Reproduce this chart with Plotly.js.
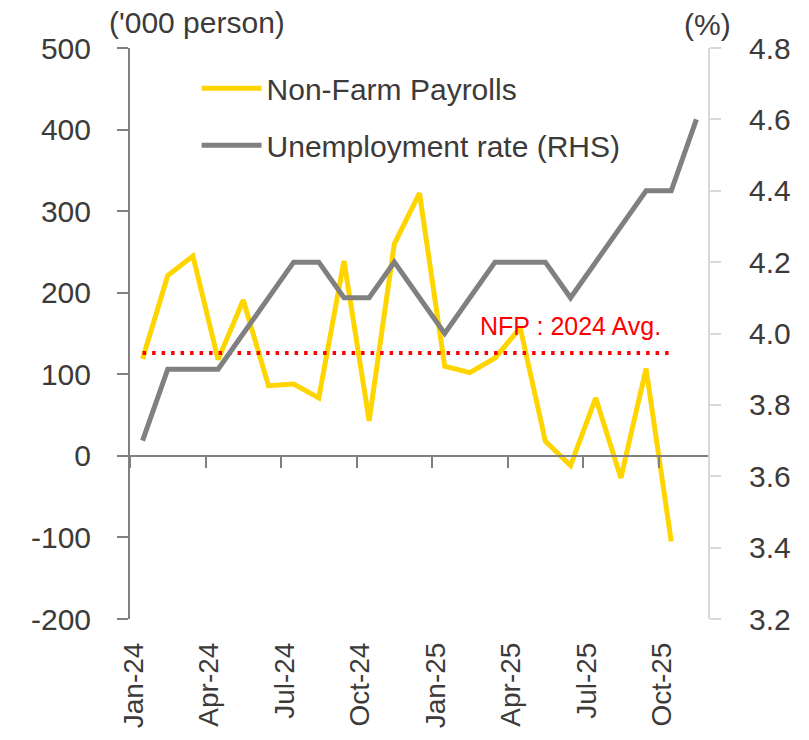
<!DOCTYPE html>
<html>
<head>
<meta charset="utf-8">
<script src="https://cdn.plot.ly/plotly-3.0.1.min.js"></script>
<style>html,body{margin:0;padding:0;background:#fff;}#chart{width:809px;height:740px;}</style>
</head>
<body>
<div id="chart"></div>
<script>
// ---- data ----
const months = ['Jan-24','Feb-24','Mar-24','Apr-24','May-24','Jun-24','Jul-24','Aug-24','Sep-24','Oct-24','Nov-24','Dec-24',
                'Jan-25','Feb-25','Mar-25','Apr-25','May-25','Jun-25','Jul-25','Aug-25','Sep-25','Oct-25','Nov-25'];
const nfpMonths = months.slice(0, 22);
const nfp = [119, 221, 245, 118, 191, 86, 88, 71, 239, 43, 260, 322,
             110, 102, 120, 157, 18, -12, 71, -27, 107, -105];
const unemployment = [3.7, 3.9, 3.9, 3.9, 4.0, 4.1, 4.2, 4.2, 4.1, 4.1, 4.2, 4.1,
                      4.0, 4.1, 4.2, 4.2, 4.2, 4.1, 4.2, 4.3, 4.4, 4.4, 4.6];
const avgMonths = ['Jan-24', 'Oct-25'];
const nfpAvg2024 = [126, 126];
const xTickLabels = ['Jan-24','Apr-24','Jul-24','Oct-24','Jan-25','Apr-25','Jul-25','Oct-25'];
const leftTicks = [-200, -100, 0, 100, 200, 300, 400, 500];
const leftTickText = ['-200', '-100', '0', '100', '200', '300', '400', '500'];
const rightTicks = [3.2, 3.4, 3.6, 3.8, 4.0, 4.2, 4.4, 4.6, 4.8];

const FONT = 'Liberation Sans, Arial, sans-serif';
const TXT = '#3d3a3a';

const traces = [
  {
    x: nfpMonths, y: nfp, xaxis: 'x', yaxis: 'y',
    type: 'scatter', mode: 'lines', name: 'Non-Farm Payrolls',
    line: {color: '#FFD500', width: 5},
    legendgroup: 'a', legendrank: 1
  },
  {
    x: avgMonths, y: nfpAvg2024, xaxis: 'x', yaxis: 'y',
    type: 'scatter', mode: 'lines', showlegend: false,
    line: {color: '#FF0000', width: 4, dash: '3.5px,6px'}
  },
  {
    x: months, y: unemployment, xaxis: 'x2', yaxis: 'y2',
    type: 'scatter', mode: 'lines', name: 'Unemployment rate (RHS)',
    line: {color: '#808080', width: 5},
    legendgroup: 'b', legendrank: 2
  }
];

const layout = {
  width: 809, height: 740,
  margin: {l: 130, r: 100, t: 48, b: 121, pad: 0},
  paper_bgcolor: '#ffffff', plot_bgcolor: '#ffffff',
  font: {family: FONT, color: TXT, size: 30},
  showlegend: true,
  legend: {
    x: 0.115, y: 0.975, xanchor: 'left', yanchor: 'top',
    bgcolor: 'rgba(0,0,0,0)', borderwidth: 0,
    font: {family: FONT, size: 30, color: TXT},
    traceorder: 'grouped', tracegroupgap: 15, itemwidth: 60
  },
  xaxis: {
    type: 'category', categoryorder: 'array', categoryarray: months,
    range: [-0.5, 22.5], anchor: 'y',
    showline: false, ticks: '', showgrid: false, zeroline: false,
    tickmode: 'array', tickvals: xTickLabels, ticktext: xTickLabels,
    tickangle: -90, tickfont: {family: FONT, size: 28, color: TXT},
    ticklabelstandoff: 17, ticklabelshift: -9
  },
  xaxis2: {
    type: 'category', categoryorder: 'array', categoryarray: months,
    range: [-0.5, 22.5], overlaying: 'x', anchor: 'free', position: 200/700,
    showline: true, linecolor: '#808080', linewidth: 2,
    ticks: 'outside', ticklen: 11, tickwidth: 2, tickcolor: '#808080',
    tickson: 'boundaries', tickmode: 'linear', tick0: 0, dtick: 3,
    showticklabels: false, showgrid: false, zeroline: false
  },
  yaxis: {
    range: [-200, 500], tickmode: 'array', tickvals: leftTicks, ticktext: leftTickText,
    showline: true, linecolor: '#808080', linewidth: 2,
    ticks: 'outside', ticklen: 11, tickwidth: 2, tickcolor: '#808080',
    showgrid: false, zeroline: false,
    tickfont: {family: FONT, size: 30, color: TXT},
    ticklabelstandoff: 20
  },
  yaxis2: {
    range: [3.2, 4.8], tickmode: 'array', tickvals: rightTicks, tickformat: '.1f',
    overlaying: 'y', side: 'right', anchor: 'free', position: 1,
    showline: true, linecolor: '#d9d9d9', linewidth: 2,
    ticks: 'outside', ticklen: 11, tickwidth: 2, tickcolor: '#d9d9d9',
    showgrid: false, zeroline: false,
    tickfont: {family: FONT, size: 30, color: TXT},
    ticklabelstandoff: 22
  },
  annotations: [
    {text: "('000 person)", xref: 'paper', yref: 'paper', x: (197 - 130) / 579, y: (619 - 22) / 571,
     xanchor: 'center', yanchor: 'middle', showarrow: false,
     font: {family: FONT, size: 30, color: TXT}},
    {text: '(%)', xref: 'paper', yref: 'paper', x: (707 - 130) / 579, y: (619 - 24) / 571,
     xanchor: 'center', yanchor: 'middle', showarrow: false,
     font: {family: FONT, size: 30, color: TXT}},
    {text: 'NFP : 2024 Avg.', xref: 'paper', yref: 'paper', x: (570 - 130) / 579, y: (619 - 326) / 571,
     xanchor: 'center', yanchor: 'middle', showarrow: false,
     font: {family: FONT, size: 25, color: '#FF0000'}}
  ]
};

Plotly.newPlot('chart', traces, layout, {displayModeBar: false, staticPlot: true});
</script>
</body>
</html>
